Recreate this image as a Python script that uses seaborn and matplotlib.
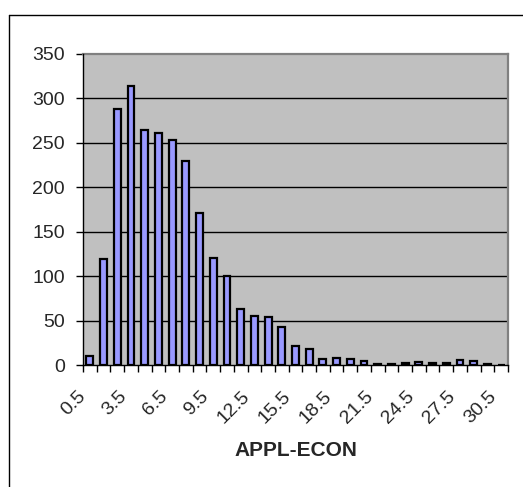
import matplotlib
matplotlib.use("Agg")
import matplotlib.pyplot as plt
import matplotlib.transforms as mtransforms
from matplotlib.lines import Line2D
import seaborn as sns
import numpy as np

# Histogram bin centres and counts
bins = [0.5, 1.5, 2.5, 3.5, 4.5, 5.5, 6.5, 7.5, 8.5, 9.5, 10.5,
        11.5, 12.5, 13.5, 14.5, 15.5, 16.5, 17.5, 18.5, 19.5, 20.5,
        21.5, 22.5, 23.5, 24.5, 25.5, 26.5, 27.5, 28.5, 29.5, 30.5]
counts = [10, 119, 288, 314, 265, 261, 253, 230, 171, 120, 100,
          63, 55, 54, 43, 21, 18, 7, 8, 7, 5,
          1, 1, 2, 3, 2, 2, 6, 4, 1, 0]
y_ticks = [0, 50, 100, 150, 200, 250, 300, 350]
x_label = "APPL-ECON"

sns.set_theme(style="white")
plt.rcParams["font.family"] = ["Liberation Sans", "DejaVu Sans"]

W, H = 523, 487
fig = plt.figure(figsize=(W / 100, H / 100), dpi=100)
fig.patch.set_facecolor("white")

ax = fig.add_axes([83 / W, 1 - 365 / H, (508 - 83) / W, (365 - 54) / H])
ax.set_facecolor("#C0C0C0")

labels = [f"{b:g}" for b in bins]
sns.barplot(x=labels, y=counts, order=labels, color="#9999FF", saturation=1,
            edgecolor="black", linewidth=1.6, width=0.5, ax=ax, zorder=3)

ax.set_xlim(-0.5, len(bins) - 0.5)
ax.set_ylim(0, 350)
ax.set_yticks(y_ticks)
ax.set_yticklabels([str(t) for t in y_ticks], fontsize=14)
for t in y_ticks[1:-1]:
    ax.axhline(t, color="black", linewidth=1.0, zorder=1)

# tick marks on bin boundaries, rotated labels on every third bin
ax.set_xticks(np.arange(-0.5, len(bins), 1.0))
ax.set_xticklabels([])
ax.tick_params(axis="x", which="major", length=5, width=1, color="black",
               direction="out", bottom=True)
ax.tick_params(axis="y", which="major", length=5, width=1, color="black",
               direction="out", left=True, pad=8)

label_tf = ax.get_xaxis_transform() + mtransforms.ScaledTranslation(
    -0.13, -0.23, fig.dpi_scale_trans)
for i in range(0, len(bins), 3):
    ax.text(i, 0, labels[i], transform=label_tf, rotation=45,
            rotation_mode="anchor", ha="right", va="top", fontsize=14)

for side in ["top", "right"]:
    ax.spines[side].set_color("#808080")
    ax.spines[side].set_linewidth(1.6)
for side in ["left", "bottom"]:
    ax.spines[side].set_color("black")
    ax.spines[side].set_linewidth(1.0)
    ax.spines[side].set_zorder(4)

ax.set_xlabel(x_label, fontsize=15, fontweight="bold")
ax.xaxis.set_label_coords(0.5, (365 - 441) / (365 - 54))
ax.set_ylabel("")

# chart-area frame
fx = lambda px: px / W
fy = lambda py: 1 - py / H
fig.add_artist(Line2D([fx(8.5), fx(8.5)], [fy(15), fy(490)], color="black", linewidth=1.0))
fig.add_artist(Line2D([fx(8.5), fx(530)], [fy(15), fy(15)], color="black", linewidth=1.0))

fig.savefig("out.png", dpi=100)
